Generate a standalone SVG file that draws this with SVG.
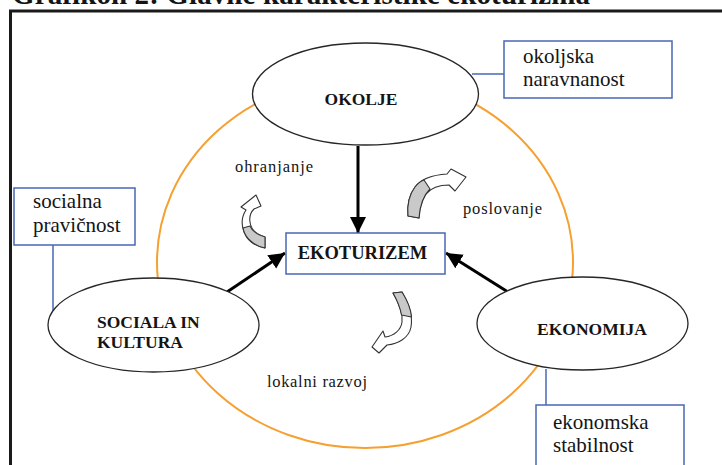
<svg xmlns="http://www.w3.org/2000/svg" width="722" height="465" viewBox="0 0 722 465">
<style>
.serif{font-family:"Liberation Serif","Times New Roman",serif;fill:#141414}
.node{fill:#fff;stroke:#262626;stroke-width:1.3}
.box{fill:#fff;stroke:#4a67b5;stroke-width:1.5}
.link{stroke:#4a67b5;stroke-width:1.5;fill:none}
.arrow{stroke:#000;stroke-width:3;fill:none;marker-end:url(#ah)}
.b{font-weight:bold;font-size:17.5px}
.t{font-size:21px}
.lbl{font-size:16.5px}
.curve{fill:#fff;stroke:#333;stroke-width:1.1;stroke-linejoin:round}
.shade{fill:#c9c9c9;stroke:#333;stroke-width:1.1;stroke-linejoin:round}
</style>
<defs>
<marker id="ah" markerUnits="userSpaceOnUse" markerWidth="18" markerHeight="18" viewBox="0 0 18 18" refX="16" refY="9" orient="auto">
<path d="M0,1 L16,9 L0,17 Z" fill="#000"/>
</marker>
</defs>
<rect width="722" height="465" fill="#fff"/>
<text class="serif" x="12" y="4" font-size="29" font-weight="bold" textLength="578">Grafikon 2: Glavne karakteristike ekoturizma</text>
<rect x="10.5" y="11" width="740" height="480" fill="none" stroke="#1a1a1a" stroke-width="3"/>

<g id="ring">
<ellipse cx="365" cy="262" rx="208" ry="186" fill="none" stroke="#f5a030" stroke-width="2"/>
</g>

<g id="connectors">
<line class="link" x1="472" y1="74" x2="504" y2="74"/>
<line class="link" x1="53" y1="245" x2="53" y2="312"/>
<line class="link" x1="546" y1="369" x2="546" y2="405"/>
<line class="arrow" x1="358" y1="146" x2="358" y2="233"/>
<line class="arrow" x1="227" y1="292" x2="285" y2="253"/>
<line class="arrow" x1="508" y1="292" x2="446" y2="253"/>
</g>

<g id="okolje">
<ellipse class="node" cx="365.5" cy="94" rx="113" ry="51"/>
<text class="serif b" x="361" y="105" text-anchor="middle">OKOLJE</text>
</g>

<g id="okoljska">
<rect class="box" x="504" y="41" width="168" height="57"/>
<text class="serif t" x="523" y="63">okoljska</text>
<text class="serif t" x="523" y="86">naravnanost</text>
</g>

<g id="socialna">
<rect class="box" x="14" y="188" width="121" height="57"/>
<text class="serif t" x="33" y="208">socialna</text>
<text class="serif t" x="33" y="232">pravičnost</text>
</g>

<g id="sociala">
<ellipse class="node" cx="153.5" cy="325" rx="105.5" ry="47"/>
<text class="serif b" x="97" y="328">SOCIALA IN</text>
<text class="serif b" x="97" y="348">KULTURA</text>
</g>

<g id="ekoturizem">
<rect class="box" x="286" y="233" width="159" height="41"/>
<text class="serif" x="362.5" y="259" font-size="18.5" font-weight="bold" text-anchor="middle">EKOTURIZEM</text>
</g>

<g id="ekonomija">
<ellipse class="node" cx="582.5" cy="323.5" rx="105.5" ry="46.5"/>
<text class="serif b" x="592" y="335" text-anchor="middle">EKONOMIJA</text>
</g>

<g id="ekonomska">
<rect class="box" x="536" y="405" width="148" height="80"/>
<text class="serif t" x="553" y="429">ekonomska</text>
<text class="serif t" x="553" y="452">stabilnost</text>
</g>

<g id="labels">
<text class="serif lbl" x="235" y="172" textLength="78">ohranjanje</text>
<text class="serif lbl" x="463" y="214" textLength="79">poslovanje</text>
<text class="serif lbl" x="267" y="387" textLength="100">lokalni razvoj</text>
</g>

<g id="curved-arrows">
<g id="curve-ohranjanje">
<path class="curve" d="M265,237 C258,235 251,230 250,222 C249,216 251,212 254,209 L261,206 L256,195 L241,207 L246,210 C242,216 241,224 244,232 C247,240 255,246 265,248 Z"/>
<path class="shade" d="M265,237 C258,235 252,231 250,226 L243,228 C245,238 254,246 265,248 Z"/>
</g>
<g id="curve-poslovanje">
<path class="curve" d="M408,216 C407,205 409,195 415,187 C421,179 431,175 447,174 L451,169 L466,177 L455,191 L449,185 C440,185 431,188 426,194 C421,201 419,209 419,218 Z"/>
<path class="shade" d="M408,216 C407,205 409,195 415,187 C418,183 421,181 424,180 L430,189 C424,195 420,205 419,218 Z"/>
</g>
<g id="curve-lokalni">
<path class="curve" d="M393,293 C399,303 403,313 402,322 C401,330 394,336 385,337 L383,331 L372,347 L379,353 L387,345 C398,344 409,338 411,327 C413,316 409,304 402,292 Z"/>
<path class="shade" d="M393,293 C397,300 400,307 401.5,315 L411.5,317 C411,308 407,300 402,292 Z"/>
</g>
</g>
</svg>
